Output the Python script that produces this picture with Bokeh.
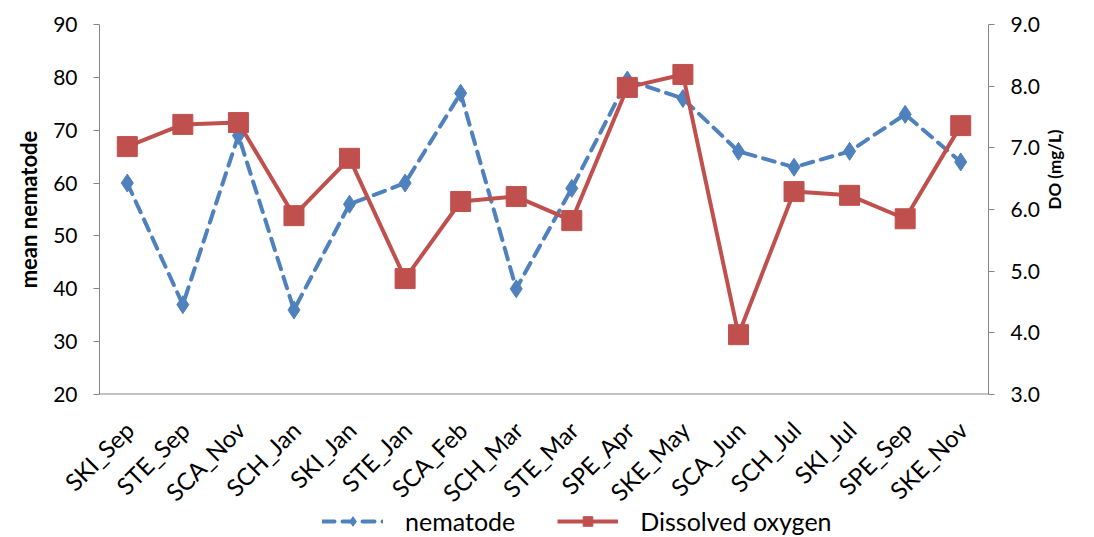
from bokeh.plotting import figure
from bokeh.models import Range1d, LinearAxis, FactorRange, Legend, LegendItem, NumeralTickFormatter, ColumnDataSource, Span
from bokeh.core.properties import value
from bokeh.layouts import column
from bokeh.embed import file_html
from bokeh.resources import INLINE
import math

sites = ["SKI_Sep", "STE_Sep", "SCA_Nov", "SCH_Jan", "SKI_Jan", "STE_Jan", "SCA_Feb", "SCH_Mar",
         "STE_Mar", "SPE_Apr", "SKE_May", "SCA_Jun", "SCH_Jul", "SKI_Jul", "SPE_Sep", "SKE_Nov"]
nematode = [60, 37, 69, 36, 56, 60, 77, 40, 59, 79.5, 76, 66, 63, 66, 73, 64]
dissolved_oxygen = [7.02, 7.38, 7.41, 5.90, 6.83, 4.88, 6.13, 6.21, 5.82, 7.98, 8.19, 3.97, 6.29, 6.23, 5.85, 7.36]

FONT = "Lato"
BLUE = "#4F81BD"
RED = "#C0504D"
AXC = "#868686"

FW, FH, BL, BR, BT, BB = 889, 370, 99, 106, 24, 14
STRIP = 537 - BT - FH - BB

n = len(sites)
src = ColumnDataSource(dict(site=sites, nem=nematode, do=dissolved_oxygen,
                            idx=[i + 0.5 for i in range(n)]))

p = figure(frame_width=FW, frame_height=FH, x_range=FactorRange(*sites, range_padding=0),
           y_range=Range1d(20, 90), output_backend="svg", toolbar_location=None,
           x_axis_location=None,
           min_border_left=BL, min_border_right=BR, min_border_top=BT, min_border_bottom=BB)
p.extra_y_ranges = {"do": Range1d(3, 9)}
p.outline_line_color = None
p.xgrid.grid_line_color = None
p.ygrid.grid_line_color = None

# left axis
ya = p.yaxis[0]
ya.axis_label = "mean nematode"
ya.axis_label_text_font = FONT
ya.axis_label_text_font_style = "bold"
ya.axis_label_text_font_size = "22px"
ya.axis_label_text_color = "#000000"
ya.axis_label_standoff = 8
ya.major_label_text_font = FONT
ya.major_label_text_font_size = "21px"
ya.major_label_text_color = "#000000"
ya.major_label_standoff = 16
ya.axis_line_color = AXC
ya.major_tick_line_color = AXC
ya.major_tick_out = 6
ya.major_tick_in = 0
ya.minor_tick_line_color = None
ya.ticker.desired_num_ticks = 8

# right axis
ra = LinearAxis(y_range_name="do", axis_label="DO (mg/L)")
ra.formatter = NumeralTickFormatter(format="0.0")
ra.axis_label_text_font = FONT
ra.axis_label_text_font_style = "bold"
ra.axis_label_text_font_size = "17px"
ra.axis_label_text_color = "#000000"
ra.axis_label_orientation = math.pi / 2
ra.axis_label_standoff = 12
ra.major_label_text_font = FONT
ra.major_label_text_font_size = "21px"
ra.major_label_text_color = "#000000"
ra.major_label_standoff = 16
ra.axis_line_color = AXC
ra.major_tick_line_color = AXC
ra.major_tick_out = 6
ra.major_tick_in = 0
ra.minor_tick_line_color = None
ra.ticker.desired_num_ticks = 7
p.add_layout(ra, "right")

# category axis line at the bottom of the frame
p.add_layout(Span(location=20, dimension="width", line_color=AXC, line_width=2))

# series
nl = p.line("site", "nem", source=src, color=BLUE, line_width=4, line_dash="12 8", line_cap="round")
nm = p.scatter("site", "nem", source=src, marker="diamond", size=18, color=BLUE)
dl = p.line("site", "do", source=src, y_range_name="do", color=RED, line_width=4)
dm = p.scatter("site", "do", source=src, y_range_name="do", marker="square", size=20, color=RED)

# strip below: rotated category labels and legend (full page width)
cw = FW / n
q = figure(frame_width=BL + FW + BR, frame_height=STRIP,
           x_range=Range1d(-BL / cw, n + BR / cw), y_range=Range1d(-(BB + STRIP), -BB),
           output_backend="svg", toolbar_location=None, x_axis_location=None, y_axis_location=None,
           min_border_left=0, min_border_right=0, min_border_top=0, min_border_bottom=0)
q.extra_y_ranges = {"off": Range1d(1000, 2000)}
q.outline_line_color = None
q.xgrid.grid_line_color = None
q.ygrid.grid_line_color = None

for fig in (p, q):
    if "frame_align" in fig.properties():
        fig.frame_align = False

lab_src = ColumnDataSource(dict(x=src.data["idx"], y=[-31] * n, t=sites))
q.text("x", "y", text="t", source=lab_src, angle=math.pi / 4, x_offset=2,
       text_align="right", text_baseline="middle", text_font=value(FONT),
       text_font_size=value("24px"), text_color="#000000")

# legend swatches (renderers kept off-screen; only their legend glyphs show)
ql1 = q.line("idx", "nem", source=src, y_range_name="off", color=BLUE, line_width=4,
             line_dash="12 8", line_cap="round")
qm1 = q.scatter("idx", "nem", source=src, y_range_name="off", marker="diamond", size=18, color=BLUE)
ql2 = q.line("idx", "do", source=src, y_range_name="off", color=RED, line_width=4)
qm2 = q.scatter("idx", "do", source=src, y_range_name="off", marker="square", size=20, color=RED)

legend = Legend(items=[LegendItem(label="nematode", renderers=[ql1, qm1]),
                       LegendItem(label="Dissolved oxygen", renderers=[ql2, qm2])],
                orientation="horizontal", location=(322, 1), border_line_color=None,
                label_text_font=FONT, label_text_font_size="25px", label_text_color="#000000",
                glyph_width=61, glyph_height=24, label_standoff=22, spacing=42, padding=0, margin=0,
                background_fill_alpha=0)
q.add_layout(legend, "center")

layout = column(p, q)
open("out.html", "w").write(file_html(layout, INLINE))
